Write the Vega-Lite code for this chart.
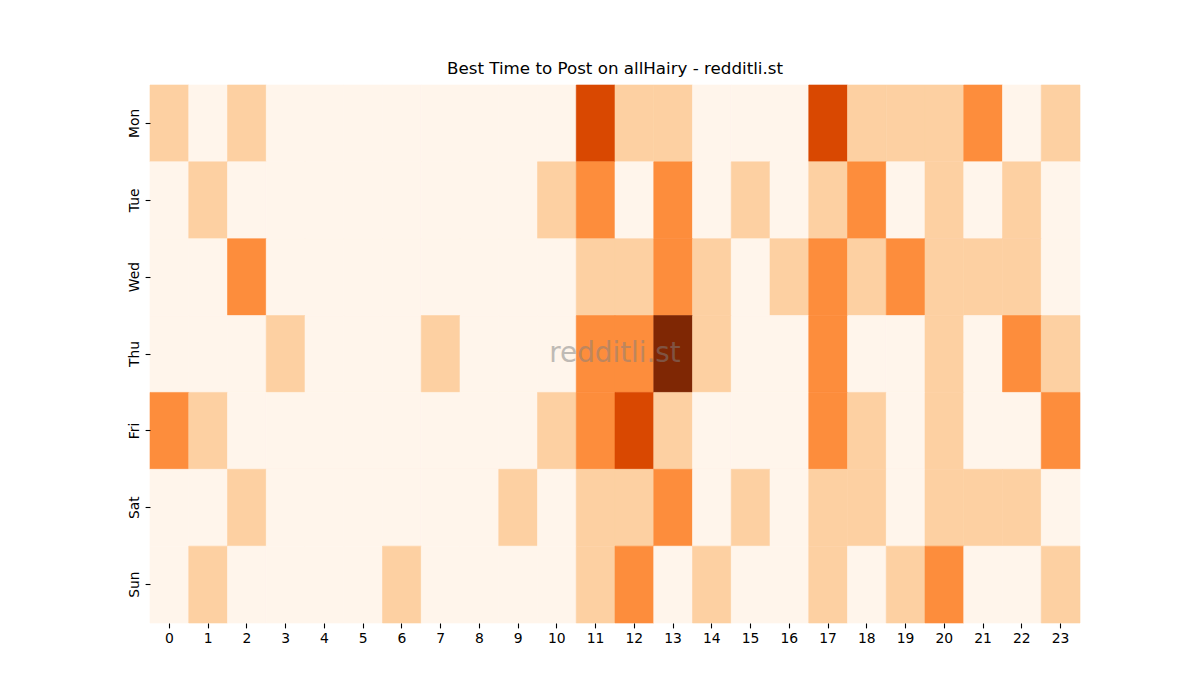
{
  "$schema": "https://vega.github.io/schema/vega-lite/v6.json",
  "width": 930,
  "height": 538,
  "autosize": {"type": "none"},
  "padding": {"left": 150, "top": 85, "right": 120, "bottom": 77},
  "background": "white",
  "config": {"view": {"stroke": null}, "font": "DejaVu Sans"},
  "title": {"text": "Best Time to Post on allHairy - redditli.st", "fontSize": 16.7, "fontWeight": "normal", "font": "DejaVu Sans", "color": "black", "offset": 7},
  "datasets": {
    "cells": [
      {"day":"Mon","hour":0,"v":1},{"day":"Mon","hour":1,"v":0},{"day":"Mon","hour":2,"v":1},{"day":"Mon","hour":3,"v":0},{"day":"Mon","hour":4,"v":0},{"day":"Mon","hour":5,"v":0},{"day":"Mon","hour":6,"v":0},{"day":"Mon","hour":7,"v":0},{"day":"Mon","hour":8,"v":0},{"day":"Mon","hour":9,"v":0},{"day":"Mon","hour":10,"v":0},{"day":"Mon","hour":11,"v":3},{"day":"Mon","hour":12,"v":1},{"day":"Mon","hour":13,"v":1},{"day":"Mon","hour":14,"v":0},{"day":"Mon","hour":15,"v":0},{"day":"Mon","hour":16,"v":0},{"day":"Mon","hour":17,"v":3},{"day":"Mon","hour":18,"v":1},{"day":"Mon","hour":19,"v":1},{"day":"Mon","hour":20,"v":1},{"day":"Mon","hour":21,"v":2},{"day":"Mon","hour":22,"v":0},{"day":"Mon","hour":23,"v":1},
      {"day":"Tue","hour":0,"v":0},{"day":"Tue","hour":1,"v":1},{"day":"Tue","hour":2,"v":0},{"day":"Tue","hour":3,"v":0},{"day":"Tue","hour":4,"v":0},{"day":"Tue","hour":5,"v":0},{"day":"Tue","hour":6,"v":0},{"day":"Tue","hour":7,"v":0},{"day":"Tue","hour":8,"v":0},{"day":"Tue","hour":9,"v":0},{"day":"Tue","hour":10,"v":1},{"day":"Tue","hour":11,"v":2},{"day":"Tue","hour":12,"v":0},{"day":"Tue","hour":13,"v":2},{"day":"Tue","hour":14,"v":0},{"day":"Tue","hour":15,"v":1},{"day":"Tue","hour":16,"v":0},{"day":"Tue","hour":17,"v":1},{"day":"Tue","hour":18,"v":2},{"day":"Tue","hour":19,"v":0},{"day":"Tue","hour":20,"v":1},{"day":"Tue","hour":21,"v":0},{"day":"Tue","hour":22,"v":1},{"day":"Tue","hour":23,"v":0},
      {"day":"Wed","hour":0,"v":0},{"day":"Wed","hour":1,"v":0},{"day":"Wed","hour":2,"v":2},{"day":"Wed","hour":3,"v":0},{"day":"Wed","hour":4,"v":0},{"day":"Wed","hour":5,"v":0},{"day":"Wed","hour":6,"v":0},{"day":"Wed","hour":7,"v":0},{"day":"Wed","hour":8,"v":0},{"day":"Wed","hour":9,"v":0},{"day":"Wed","hour":10,"v":0},{"day":"Wed","hour":11,"v":1},{"day":"Wed","hour":12,"v":1},{"day":"Wed","hour":13,"v":2},{"day":"Wed","hour":14,"v":1},{"day":"Wed","hour":15,"v":0},{"day":"Wed","hour":16,"v":1},{"day":"Wed","hour":17,"v":2},{"day":"Wed","hour":18,"v":1},{"day":"Wed","hour":19,"v":2},{"day":"Wed","hour":20,"v":1},{"day":"Wed","hour":21,"v":1},{"day":"Wed","hour":22,"v":1},{"day":"Wed","hour":23,"v":0},
      {"day":"Thu","hour":0,"v":0},{"day":"Thu","hour":1,"v":0},{"day":"Thu","hour":2,"v":0},{"day":"Thu","hour":3,"v":1},{"day":"Thu","hour":4,"v":0},{"day":"Thu","hour":5,"v":0},{"day":"Thu","hour":6,"v":0},{"day":"Thu","hour":7,"v":1},{"day":"Thu","hour":8,"v":0},{"day":"Thu","hour":9,"v":0},{"day":"Thu","hour":10,"v":0},{"day":"Thu","hour":11,"v":2},{"day":"Thu","hour":12,"v":2},{"day":"Thu","hour":13,"v":4},{"day":"Thu","hour":14,"v":1},{"day":"Thu","hour":15,"v":0},{"day":"Thu","hour":16,"v":0},{"day":"Thu","hour":17,"v":2},{"day":"Thu","hour":18,"v":0},{"day":"Thu","hour":19,"v":0},{"day":"Thu","hour":20,"v":1},{"day":"Thu","hour":21,"v":0},{"day":"Thu","hour":22,"v":2},{"day":"Thu","hour":23,"v":1},
      {"day":"Fri","hour":0,"v":2},{"day":"Fri","hour":1,"v":1},{"day":"Fri","hour":2,"v":0},{"day":"Fri","hour":3,"v":0},{"day":"Fri","hour":4,"v":0},{"day":"Fri","hour":5,"v":0},{"day":"Fri","hour":6,"v":0},{"day":"Fri","hour":7,"v":0},{"day":"Fri","hour":8,"v":0},{"day":"Fri","hour":9,"v":0},{"day":"Fri","hour":10,"v":1},{"day":"Fri","hour":11,"v":2},{"day":"Fri","hour":12,"v":3},{"day":"Fri","hour":13,"v":1},{"day":"Fri","hour":14,"v":0},{"day":"Fri","hour":15,"v":0},{"day":"Fri","hour":16,"v":0},{"day":"Fri","hour":17,"v":2},{"day":"Fri","hour":18,"v":1},{"day":"Fri","hour":19,"v":0},{"day":"Fri","hour":20,"v":1},{"day":"Fri","hour":21,"v":0},{"day":"Fri","hour":22,"v":0},{"day":"Fri","hour":23,"v":2},
      {"day":"Sat","hour":0,"v":0},{"day":"Sat","hour":1,"v":0},{"day":"Sat","hour":2,"v":1},{"day":"Sat","hour":3,"v":0},{"day":"Sat","hour":4,"v":0},{"day":"Sat","hour":5,"v":0},{"day":"Sat","hour":6,"v":0},{"day":"Sat","hour":7,"v":0},{"day":"Sat","hour":8,"v":0},{"day":"Sat","hour":9,"v":1},{"day":"Sat","hour":10,"v":0},{"day":"Sat","hour":11,"v":1},{"day":"Sat","hour":12,"v":1},{"day":"Sat","hour":13,"v":2},{"day":"Sat","hour":14,"v":0},{"day":"Sat","hour":15,"v":1},{"day":"Sat","hour":16,"v":0},{"day":"Sat","hour":17,"v":1},{"day":"Sat","hour":18,"v":1},{"day":"Sat","hour":19,"v":0},{"day":"Sat","hour":20,"v":1},{"day":"Sat","hour":21,"v":1},{"day":"Sat","hour":22,"v":1},{"day":"Sat","hour":23,"v":0},
      {"day":"Sun","hour":0,"v":0},{"day":"Sun","hour":1,"v":1},{"day":"Sun","hour":2,"v":0},{"day":"Sun","hour":3,"v":0},{"day":"Sun","hour":4,"v":0},{"day":"Sun","hour":5,"v":0},{"day":"Sun","hour":6,"v":1},{"day":"Sun","hour":7,"v":0},{"day":"Sun","hour":8,"v":0},{"day":"Sun","hour":9,"v":0},{"day":"Sun","hour":10,"v":0},{"day":"Sun","hour":11,"v":1},{"day":"Sun","hour":12,"v":2},{"day":"Sun","hour":13,"v":0},{"day":"Sun","hour":14,"v":1},{"day":"Sun","hour":15,"v":0},{"day":"Sun","hour":16,"v":0},{"day":"Sun","hour":17,"v":1},{"day":"Sun","hour":18,"v":0},{"day":"Sun","hour":19,"v":1},{"day":"Sun","hour":20,"v":2},{"day":"Sun","hour":21,"v":0},{"day":"Sun","hour":22,"v":0},{"day":"Sun","hour":23,"v":1}
    ],
    "mark": [{"label": "redditli.st"}]
  },
  "layer": [
    {
      "data": {"name": "cells"},
      "mark": {"type": "rect", "strokeWidth": 0.6},
      "encoding": {
        "x": {"field": "hour", "type": "ordinal", "title": null,
              "scale": {"paddingInner": 0, "paddingOuter": 0},
              "axis": {"labelAngle": 0, "labelFontSize": 13.9, "labelColor": "black", "labelFont": "DejaVu Sans", "domain": false, "ticks": true, "tickColor": "black", "tickSize": 4.9, "tickWidth": 1.1, "labelPadding": 3.5}},
        "y": {"field": "day", "type": "ordinal", "title": null,
              "sort": ["Mon","Tue","Wed","Thu","Fri","Sat","Sun"],
              "scale": {"paddingInner": 0, "paddingOuter": 0},
              "axis": {"labelAngle": 270, "labelAlign": "center", "labelBaseline": "bottom", "labelFontSize": 13.9, "labelColor": "black", "labelFont": "DejaVu Sans", "domain": false, "ticks": true, "tickColor": "black", "tickSize": 4.9, "tickWidth": 1.1, "labelPadding": 3.5}},
        "color": {"field": "v", "type": "quantitative", "legend": null,
                  "scale": {"type": "linear", "domain": [0,1,2,3,4], "range": ["#fff5eb","#fdd0a2","#fd8d3c","#d94801","#7f2704"]}},
        "stroke": {"field": "v", "type": "quantitative", "legend": null,
                  "scale": {"type": "linear", "domain": [0,1,2,3,4], "range": ["#fff5eb","#fdd0a2","#fd8d3c","#d94801","#7f2704"]}}
      }
    },
    {
      "data": {"name": "mark"},
      "mark": {"type": "text", "fontSize": 27.8, "font": "DejaVu Sans", "color": "gray", "opacity": 0.5, "align": "center", "baseline": "middle"},
      "encoding": {"text": {"field": "label", "type": "nominal"}}
    }
  ]
}
